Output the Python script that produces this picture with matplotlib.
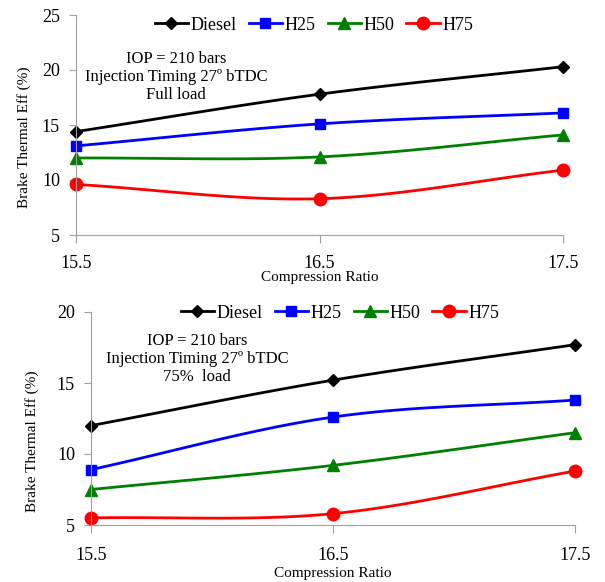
import numpy as np
import matplotlib
matplotlib.use("Agg")
import matplotlib.pyplot as plt

plt.rcParams['font.family'] = ['Liberation Serif', 'DejaVu Serif']

cr = [15.5, 16.5, 17.5]
series = ["Diesel", "H25", "H50", "H75"]
colors = ["black", "#0000ff", "#008000", "#ff0000"]
markers = ["D", "s", "^", "o"]
msizes = [6, 7, 8, 9]

full_load = {
    "Diesel": [14.4, 17.8, 20.3],
    "H25": [13.1, 15.1, 16.1],
    "H50": [12.0, 12.1, 14.1],
    "H75": [9.6, 8.3, 10.9],
}
part_load = {
    "Diesel": [12.0, 15.2, 17.7],
    "H25": [8.9, 12.6, 13.8],
    "H50": [7.5, 9.2, 11.5],
    "H75": [5.5, 5.8, 8.8],
}


def smooth(x, y, n=40):
    # catmull-rom style curve through the points, like excel smoothed lines
    x = np.asarray(x, float)
    y = np.asarray(y, float)
    px = np.concatenate([[2 * x[0] - x[1]], x, [2 * x[-1] - x[-2]]])
    py = np.concatenate([[2 * y[0] - y[1]], y, [2 * y[-1] - y[-2]]])
    xs, ys = [], []
    for i in range(1, len(px) - 2):
        t = np.linspace(0, 1, n)
        for arr, out in ((px, xs), (py, ys)):
            p0, p1, p2, p3 = arr[i - 1], arr[i], arr[i + 1], arr[i + 2]
            out.extend(0.5 * ((2 * p1) + (-p0 + p2) * t
                              + (2 * p0 - 5 * p1 + 4 * p2 - p3) * t ** 2
                              + (-p0 + 3 * p1 - 3 * p2 + p3) * t ** 3))
    return xs, ys


def panel(ax, data, ylim, yticks, note, note_xy, leg_xy, ylab_xy, xlab_y, xpad):
    for name, c, m, ms in zip(series, colors, markers, msizes):
        sx, sy = smooth(cr, data[name])
        ax.plot(sx, sy, color=c, lw=2, clip_on=False)
        ax.plot(cr, data[name], ls='none', marker=m, color=c, ms=ms, clip_on=False)
        ax.plot([], [], color=c, lw=2, marker=m, ms=ms, label=name)
    ax.set_xlim(15.5, 17.5)
    ax.set_ylim(*ylim)
    ax.set_xticks(cr)
    ax.set_xticklabels(["15.5", "16.5", "17.5"])
    ax.set_yticks(yticks)
    ax.spines['top'].set_visible(False)
    ax.spines['right'].set_visible(False)
    for s in ('left', 'bottom'):
        ax.spines[s].set_color('#a0a0a0')
    ax.tick_params(axis='both', colors='#a0a0a0', labelcolor='black', labelsize=13)
    ax.tick_params(axis='x', length=6, pad=xpad)
    ax.tick_params(axis='y', length=5, pad=6.5)
    ax.set_xlabel("Compression Ratio", fontsize=11)
    ax.xaxis.set_label_coords(0.5, xlab_y)
    ax.set_ylabel("Brake Thermal Eff (%)", fontsize=11)
    ax.yaxis.set_label_coords(*ylab_xy)
    ax.legend(loc='center', bbox_to_anchor=leg_xy, bbox_transform=fig.transFigure,
              ncol=4, frameon=False, fontsize=13, handlelength=1.85,
              handletextpad=0.15, columnspacing=0.65, borderpad=0, borderaxespad=0)
    fig.text(note_xy[0], note_xy[1], note, ha='center', va='center',
             fontsize=12, linespacing=1.15)


fig = plt.figure(figsize=(6.05, 5.82), dpi=100)
ax1 = fig.add_axes([76 / 605, 1 - 235 / 582, 487 / 605, 220 / 582])
ax2 = fig.add_axes([91 / 605, 1 - 525 / 582, 484 / 605, 213 / 582])

panel(ax1, full_load, (5, 25), [5, 10, 15, 20, 25],
      "IOP = 210 bars\nInjection Timing 27\u00ba bTDC\nFull load",
      (176 / 605, 1 - 77 / 582), (314 / 605, 1 - 25 / 582), (-0.092, 0.445), -0.165, 8.5)
panel(ax2, part_load, (5, 20), [5, 10, 15, 20],
      "IOP = 210 bars\nInjection Timing 27\u00ba bTDC\n75%  load",
      (197 / 605, 1 - 359 / 582), (340 / 605, 1 - 313 / 582), (-0.107, 0.394), -0.197, 9.5)

fig.savefig("out.png", dpi=100)
